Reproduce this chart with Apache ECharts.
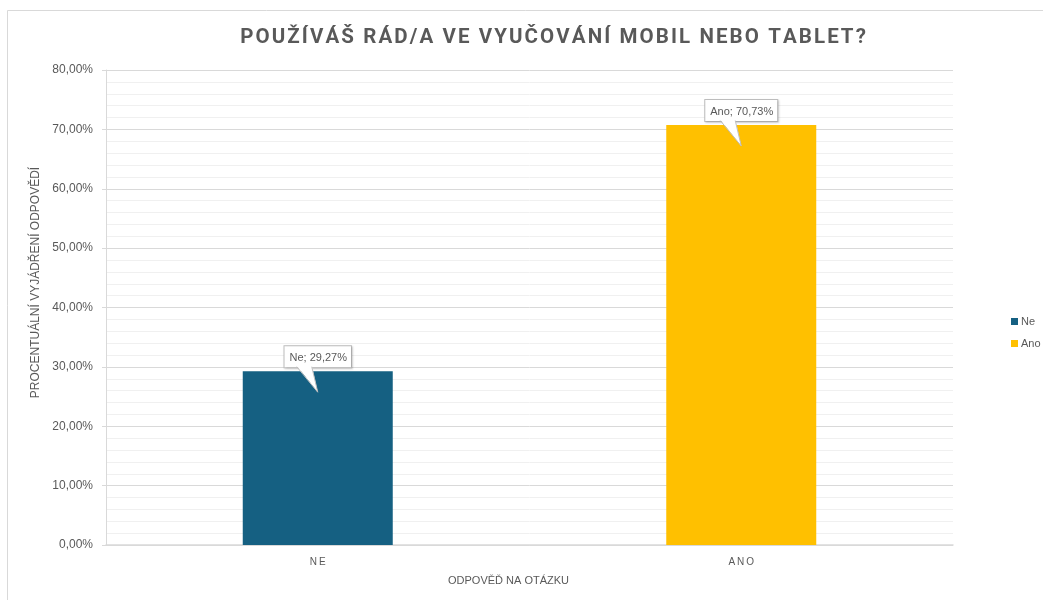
<!DOCTYPE html>
<html>
<head>
<meta charset="utf-8">
<script src="https://cdn.jsdelivr.net/npm/echarts@6/dist/echarts.min.js"></script>
<style>
  html, body { margin: 0; padding: 0; background: #fff; }
  #chart { width: 1043px; height: 600px; }
</style>
</head>
<body>
<div id="chart"></div>
<script>
var categories = ['NE', 'ANO'];
var seriesNames = ['Ne', 'Ano'];
var values = [0.2927, 0.7073];
var colors = ['#156082', '#FFC000'];
var titleText = 'POUŽÍVÁŠ RÁD/A VE VYUČOVÁNÍ MOBIL NEBO TABLET?';

function pct(v) {
  return (v * 100).toFixed(2).replace('.', ',') + '%';
}
function spaced(s, sp) {
  return s.split('').join(sp || '\u2009');
}

var chart = echarts.init(document.getElementById('chart'));

var barSeries = seriesNames.map(function (name, i) {
  return {
    name: name,
    type: 'bar',
    barWidth: 150,
    barGap: '-100%',
    itemStyle: { color: colors[i] },
    data: categories.map(function (c, j) { return j === i ? values[j] : '-'; })
  };
});

// callout labels drawn through the axes
var calloutSeries = {
  type: 'custom',
  silent: true,
  z: 10,
  data: values.map(function (v, i) { return [i, v]; }),
  renderItem: function (params, api) {
    var i = api.value(0);
    var p = api.coord([i, api.value(1)]);
    var cx = p[0], top = p[1];
    var text = seriesNames[i] + '; ' + pct(values[i]);
    var boxBottom = top - 4;
    return {
      type: 'group',
      children: [
        {
          type: 'text',
          z2: 1,
          style: {
            text: text,
            x: cx,
            y: boxBottom,
            align: 'center',
            verticalAlign: 'bottom',
            fill: '#595959',
            font: '11px "Liberation Sans", Arial, sans-serif',
            backgroundColor: '#fff',
            borderColor: '#bfbfbf',
            borderWidth: 1,
            padding: [6, 4, 4, 5],
            shadowColor: 'rgba(0,0,0,0.15)',
            shadowBlur: 2,
            shadowOffsetX: 1,
            shadowOffsetY: 1
          }
        },
        {
          type: 'polygon',
          z2: 2,
          shape: { points: [[cx - 21, boxBottom - 1.5], [cx - 6, boxBottom - 1.5], [cx, top + 21], [cx - 21, boxBottom - 1.5]] },
          style: { fill: '#fff', stroke: null }
        },
        {
          type: 'polyline',
          z2: 3,
          shape: { points: [[cx - 21, boxBottom - 0.5], [cx, top + 21], [cx - 6, boxBottom - 0.5]] },
          style: { stroke: '#bfbfbf', lineWidth: 1, fill: null }
        }
      ]
    };
  }
};

chart.setOption({
  backgroundColor: '#fff',
  animation: false,
  title: {
    text: spaced(titleText, '\u200A'),
    left: 548,
    textAlign: 'center',
    top: 22,
    textStyle: {
      color: '#595959',
      fontFamily: 'Roboto, "DejaVu Sans", sans-serif',
      fontWeight: 'bold',
      fontSize: 20.5
    }
  },
  legend: {
    orient: 'vertical',
    left: 1006,
    top: 311,
    icon: 'rect',
    itemWidth: 7,
    itemHeight: 7,
    itemGap: 11,
    itemStyle: { borderWidth: 0 },
    textStyle: { color: '#595959', fontSize: 11, padding: [0, 0, 0, -2], fontFamily: '"Liberation Sans", Arial, sans-serif' },
    data: seriesNames
  },
  grid: { left: 106, right: 90, top: 70, bottom: 55, containLabel: false },
  xAxis: {
    type: 'category',
    data: categories,
    axisLine: { lineStyle: { color: '#d9d9d9', width: 1.5 } },
    axisTick: { show: false },
    axisLabel: {
      color: '#595959',
      fontSize: 10,
      margin: 12,
      fontFamily: '"Liberation Sans", Arial, sans-serif',
      formatter: function (v) { return spaced(v); }
    },
    name: 'ODPOVĚĎ NA OTÁZKU',
    nameLocation: 'middle',
    nameGap: 30,
    nameTextStyle: {
      color: '#595959',
      fontSize: 11,
      fontFamily: '"Liberation Sans", Arial, sans-serif',
      padding: [0, 42, 0, 0]
    }
  },
  yAxis: {
    type: 'value',
    min: 0,
    max: 0.8,
    interval: 0.1,
    axisLine: { show: true, lineStyle: { color: '#d9d9d9' } },
    axisTick: { show: true, length: 4, lineStyle: { color: '#d9d9d9' } },
    splitLine: { lineStyle: { color: '#d9d9d9' } },
    minorTick: { show: false, splitNumber: 5 },
    minorSplitLine: { show: true, lineStyle: { color: '#f0f0f0' } },
    axisLabel: {
      color: '#595959',
      fontSize: 12,
      margin: 13,
      fontFamily: '"Liberation Sans", Arial, sans-serif',
      formatter: pct
    },
    name: 'PROCENTUÁLNÍ VYJÁDŘENÍ ODPOVĚDÍ',
    nameLocation: 'middle',
    nameGap: 53,
    nameTextStyle: {
      color: '#595959',
      fontSize: 12,
      fontFamily: '"Liberation Sans", Arial, sans-serif',
      padding: [0, 0, 0, 50]
    }
  },
  graphic: [{
    type: 'rect',
    silent: true,
    shape: { x: 7.5, y: 10.5, width: 1200, height: 800 },
    style: { fill: null, stroke: '#d9d9d9', lineWidth: 1 }
  }],
  series: barSeries.concat([calloutSeries])
});
</script>
</body>
</html>
